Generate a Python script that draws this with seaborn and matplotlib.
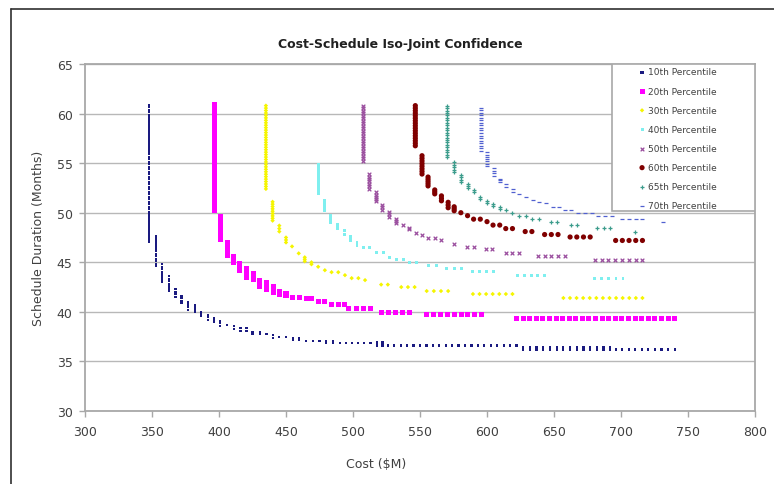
import matplotlib
matplotlib.use("Agg")
import matplotlib.pyplot as plt
import matplotlib.patches as mpatches
import matplotlib.lines as mlines
import numpy as np
import pandas as pd
import seaborn as sns

# model resolution of the cost / schedule grid
COST_STEP = 4.9
SCHED_STEP = 0.25

# each run: (cost_from, cost_to, schedule_high, schedule_low)
p10 = [
    (348, 348, 60.9, 47.1), (353, 353, 47.6, 44.6), (357.5, 357.5, 44.8, 43.0),
    (362.5, 362.5, 43.6, 42.1), (367.5, 367.5, 42.3, 41.5), (372, 372, 41.6, 40.9),
    (377, 377, 41.0, 40.2), (382, 382, 40.7, 40.0), (386.5, 386.5, 40.0, 39.6),
    (391.5, 391.5, 39.7, 39.2), (396.5, 396.5, 39.4, 39.0), (401, 401, 39.1, 38.6),
    (406, 406, 38.7, 38.7), (411, 411, 38.6, 38.3), (416, 420.5, 38.4, 38.1),
    (425, 430.5, 38.0, 37.75), (435.5, 435.5, 37.75, 37.75), (440, 440, 37.65, 37.4),
    (445, 450, 37.45, 37.45), (455, 460, 37.4, 37.15), (465, 475, 37.1, 37.1),
    (480, 485, 37.1, 36.85), (490, 513, 36.85, 36.85), (518, 522, 36.9, 36.6),
    (526, 622, 36.6, 36.6), (627, 692, 36.45, 36.2), (696, 740, 36.2, 36.2),
]
p20 = [
    (396.5, 396.5, 60.9, 50.2), (401, 401, 49.6, 47.3), (406, 406, 47.0, 45.7),
    (411, 411, 45.6, 45.0), (415.5, 415.5, 44.9, 44.2), (420.5, 420.5, 44.4, 43.5),
    (425.5, 425.5, 43.9, 43.3), (430.5, 430.5, 43.2, 42.6), (435.5, 435.5, 43.0, 42.3),
    (440.5, 440.5, 42.6, 42.0), (445, 445, 42.1, 41.8), (450, 450, 41.9, 41.6),
    (455, 460, 41.45, 41.45), (465, 469, 41.3, 41.3), (474, 479, 41.0, 41.0),
    (484, 494, 40.7, 40.7), (497, 513, 40.3, 40.3), (521.5, 542.5, 39.95, 39.95),
    (555, 596, 39.7, 39.7), (622, 740, 39.35, 39.35),
]
p30 = [
    (435, 435, 60.8, 52.4), (440, 440, 51.1, 49.2), (445, 445, 48.7, 48.1),
    (450, 450, 47.5, 47.0), (454.5, 454.5, 46.6, 46.6), (459.5, 459.5, 45.9, 45.9),
    (464, 464, 45.5, 45.1), (469, 469, 45.0, 44.8), (474, 474, 44.55, 44.55),
    (479, 479, 44.2, 44.2), (484, 489, 44.0, 44.0), (494, 494, 43.7, 43.7),
    (499, 504, 43.4, 43.4), (509, 509, 43.2, 43.2), (521, 526, 42.75, 42.75),
    (536, 546, 42.5, 42.5), (555, 571, 42.1, 42.1), (589.5, 619, 41.8, 41.8),
    (657, 716, 41.4, 41.4),
]
p40 = [
    (474, 474, 54.9, 51.9), (478.5, 478.5, 51.2, 50.2), (483.5, 483.5, 49.7, 49.0),
    (488.5, 488.5, 48.8, 48.4), (493.5, 493.5, 48.2, 47.85), (498, 498, 47.6, 47.2),
    (503, 503, 47.0, 46.7), (508, 512.5, 46.45, 46.45), (517.5, 522.5, 46.0, 46.0),
    (527.5, 527.5, 45.5, 45.5), (532.5, 537.5, 45.25, 45.25), (542.5, 547.5, 45.0, 45.0),
    (556, 562, 44.65, 44.65), (570, 581, 44.4, 44.4), (589.5, 604.5, 44.05, 44.05),
    (623, 643, 43.7, 43.7), (680.5, 701.5, 43.4, 43.4),
]
p50 = [
    (507.5, 507.5, 60.8, 55.25), (512, 512, 53.9, 52.4), (517, 517, 52.05, 51.15),
    (522, 522, 50.8, 50.3), (527, 527, 50.1, 49.6), (532, 532, 49.4, 49.0),
    (537, 537, 48.75, 48.75), (542, 542, 48.5, 48.35), (547, 547, 48.0, 48.0),
    (551.5, 551.5, 47.8, 47.8), (556, 561, 47.5, 47.5), (566, 566, 47.25, 47.25),
    (575, 575, 46.8, 46.8), (585, 590, 46.5, 46.5), (599, 604, 46.3, 46.3),
    (614, 624, 45.9, 45.9), (638, 658, 45.6, 45.6), (680.5, 716, 45.25, 45.25),
]
p60 = [
    (546.5, 546.5, 60.8, 56.75), (551.5, 551.5, 55.75, 53.9), (556, 556, 53.6, 52.7),
    (561, 561, 52.3, 51.9), (566, 566, 51.7, 51.2), (571, 571, 51.05, 50.5),
    (575.5, 575.5, 50.6, 50.2), (580.5, 580.5, 50.0, 50.0), (585.5, 585.5, 49.7, 49.7),
    (590, 595, 49.35, 49.35), (600, 600, 49.1, 49.1), (604.5, 609.5, 48.75, 48.75),
    (614, 619, 48.4, 48.4), (628.5, 633.5, 48.1, 48.1), (643, 653, 47.8, 47.8),
    (662, 677, 47.55, 47.55), (696, 716, 47.2, 47.2),
]
p65 = [
    (570.5, 570.5, 60.8, 55.6), (575.5, 575.5, 55.1, 54.1), (580.5, 580.5, 53.8, 53.1),
    (585.5, 585.5, 52.9, 52.5), (590, 590, 52.3, 52.05), (595, 595, 51.6, 51.35),
    (600, 600, 51.2, 51.0), (604.5, 604.5, 50.9, 50.7), (609.5, 609.5, 50.6, 50.4),
    (614, 614, 50.3, 50.3), (619, 619, 50.0, 50.0), (624, 629, 49.7, 49.7),
    (633.5, 638.5, 49.35, 49.35), (647.5, 652.5, 49.1, 49.1), (662.5, 667.5, 48.75, 48.75),
    (682, 692, 48.45, 48.45), (710.5, 710.5, 48.1, 48.1),
]
p70 = [
    (595.5, 595.5, 60.6, 56.25), (600, 600, 56.1, 54.7), (605, 605, 54.5, 53.7),
    (610, 610, 53.45, 53.05), (614.5, 614.5, 52.9, 52.6), (619.5, 619.5, 52.4, 52.1),
    (624, 624, 51.9, 51.9), (629, 629, 51.55, 51.55), (634, 634, 51.3, 51.3),
    (639, 639, 51.1, 51.1), (644, 644, 50.95, 50.95), (649, 654, 50.6, 50.6),
    (658, 663, 50.3, 50.3), (668, 678, 50.0, 50.0), (683, 693, 49.7, 49.7),
    (701, 716, 49.4, 49.4), (731, 731, 49.1, 49.1),
]

labels = ["10th Percentile", "20th Percentile", "30th Percentile", "40th Percentile",
          "50th Percentile", "60th Percentile", "65th Percentile", "70th Percentile"]
runs = [p10, p20, p30, p40, p50, p60, p65, p70]

# style: (color, marker, size, filled)
styles = [
    ("#1A1A80", "s", 2.5, True),
    ("#FF00FF", "s", 13, True),
    ("#F5F500", "D", 5, True),
    ("#7FEFEF", "s", 4.5, True),
    ("#9A4E9E", "x", 7, False),
    ("#800000", "o", 14, True),
    ("#3C9C8C", "+", 9, False),
    ("#5060D0", "_", 9, False),
]


def expand(segments):
    cost, sched = [], []
    for c0, c1, s_hi, s_lo in segments:
        nc = int(round((c1 - c0) / COST_STEP)) + 1
        ns = int(round((s_hi - s_lo) / SCHED_STEP)) + 1
        for c in np.linspace(c0, c1, nc):
            for s in np.linspace(s_hi, s_lo, ns):
                cost.append(c)
                sched.append(s)
    return cost, sched


frames = []
for lab, seg in zip(labels, runs):
    c, s = expand(seg)
    frames.append(pd.DataFrame({"cost": c, "schedule": s, "series": lab}))
df = pd.concat(frames, ignore_index=True)

sns.set_style("white")
plt.rcParams["font.family"] = ["DejaVu Sans"]

fig = plt.figure(figsize=(7.74, 4.85), dpi=100)
ax = fig.add_axes([85 / 774, 1 - 412 / 485, 670 / 774, 347 / 485])

for lab, (col, mk, sz, filled) in zip(labels, styles):
    d = df[df["series"] == lab]
    kw = dict(linewidth=0, edgecolor="none") if filled else dict(linewidth=0.9, edgecolor=col)
    sns.scatterplot(data=d, x="cost", y="schedule", ax=ax, color=col, marker=mk,
                    s=sz, label=lab, zorder=2, **kw)

ax.set_xlim(300, 800)
ax.set_ylim(30, 65)
ax.set_xticks(np.arange(300, 801, 50))
ax.set_yticks(np.arange(30, 66, 5))
ax.yaxis.grid(True, color="#B8B8B8", linewidth=1.0)
ax.xaxis.grid(False)
for sp in ax.spines.values():
    sp.set_color("#A8A8A8")
    sp.set_linewidth(1.3)
ax.tick_params(axis="both", colors="#A8A8A8", labelcolor="#404040", labelsize=9,
               length=4, width=1, direction="out", left=True, bottom=True)
ax.tick_params(axis="y", pad=5)
ax.tick_params(axis="x", pad=6)

ax.set_xlabel("Cost ($M)", fontsize=9, color="#404040", labelpad=14, x=0.434)
ax.set_ylabel("Schedule Duration (Months)", fontsize=9, color="#404040", labelpad=8)
ax.set_title("Cost-Schedule Iso-Joint Confidence", fontsize=9, fontweight="bold",
             color="#202020", pad=12, x=0.47)

# legend box in the top right corner of the plot area
box = mpatches.Rectangle((0.786, 0.577), 0.214, 0.423, transform=ax.transAxes,
                         facecolor="white", edgecolor="#A8A8A8", linewidth=1.2, zorder=3)
ax.add_patch(box)
leg = ax.legend(loc="upper left", bbox_to_anchor=(0.826, 0.99), frameon=False,
                fontsize=6.5, handlelength=0.8, handletextpad=0.3, labelspacing=1.12,
                borderpad=0, borderaxespad=0, markerscale=1.0)
leg.set_zorder(5)
for t in leg.get_texts():
    t.set_color("#404040")
leg.legend_handles[0].set_sizes([5])

# outer chart border
fig.add_artist(mlines.Line2D([11 / 774, 11 / 774], [0, 1 - 10 / 485],
                             transform=fig.transFigure, color="#303030", linewidth=1.2))
fig.add_artist(mlines.Line2D([11 / 774, 1], [1 - 10 / 485, 1 - 10 / 485],
                             transform=fig.transFigure, color="#303030", linewidth=1.2))

fig.savefig("out.png", dpi=100)
